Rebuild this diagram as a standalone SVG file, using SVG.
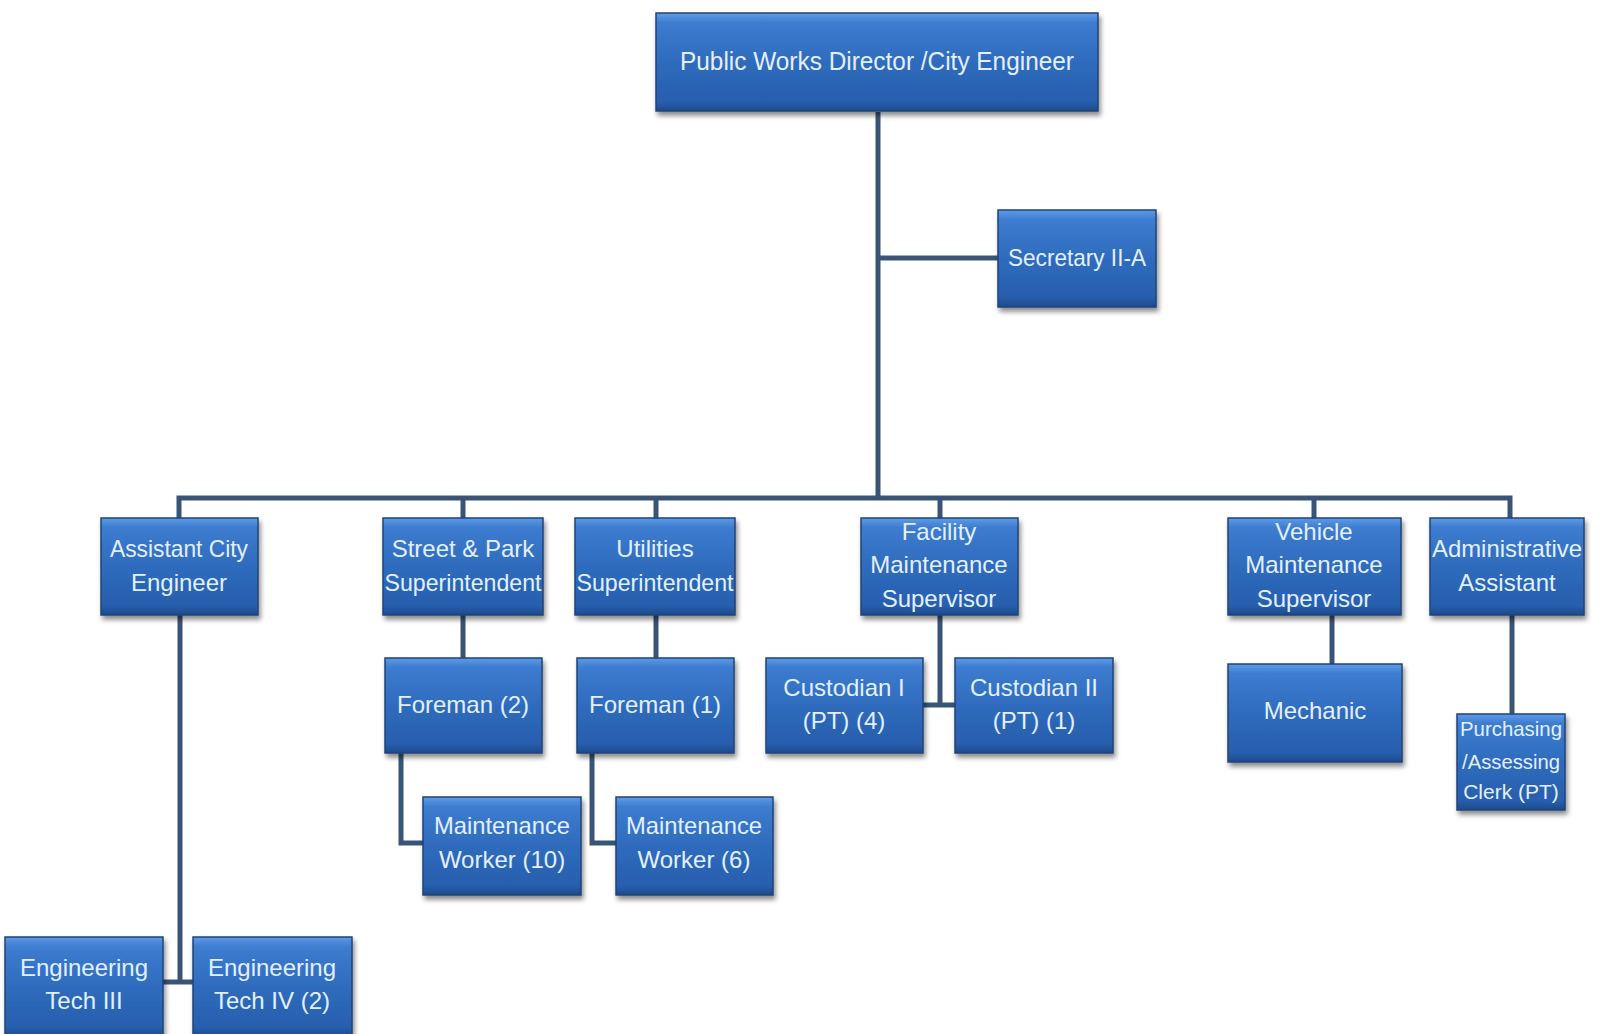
<svg xmlns="http://www.w3.org/2000/svg" width="1600" height="1034" viewBox="0 0 1600 1034">
<defs>
<linearGradient id="g" x1="0" y1="0" x2="0" y2="1">
<stop offset="0" stop-color="#5f9be6"/>
<stop offset="0.1" stop-color="#3d7cd0"/>
<stop offset="0.5" stop-color="#2f6bbd"/>
<stop offset="0.9" stop-color="#285fae"/>
<stop offset="1" stop-color="#1d4a8c"/>
</linearGradient>
<filter id="sh" x="-10%" y="-10%" width="125%" height="130%">
<feGaussianBlur in="SourceAlpha" stdDeviation="2.5"/>
<feOffset dx="2" dy="4" result="b"/>
<feComponentTransfer><feFuncA type="linear" slope="0.45"/></feComponentTransfer>
<feMerge><feMergeNode/><feMergeNode in="SourceGraphic"/></feMerge>
</filter>
</defs>
<style>
.box{fill:url(#g);stroke:#1f4478;stroke-width:1.5;filter:url(#sh)}
.t{font-family:"Liberation Sans",Arial,sans-serif;font-size:24px;fill:#e2f1fd;text-anchor:middle;dominant-baseline:central}
.s{font-size:21px}
.c{fill:none;stroke:#3a5476;stroke-width:5;stroke-linejoin:miter}
</style>
<rect width="1600" height="1034" fill="#ffffff"/>
<g id="connectors">
<path class="c" d="M878 112 V498"/>
<path class="c" d="M878 258 H998"/>
<path class="c" d="M179 518 V498 H1510 V518"/>
<path class="c" d="M463 498 V518"/>
<path class="c" d="M656 498 V518"/>
<path class="c" d="M940 498 V518"/>
<path class="c" d="M1314 498 V518"/>
<path class="c" d="M180 615 V982 M163 982 H193"/>
<path class="c" d="M463 615 V658"/>
<path class="c" d="M656 615 V658"/>
<path class="c" d="M401 753 V843 H423"/>
<path class="c" d="M592 753 V843 H616"/>
<path class="c" d="M940 615 V705 M923 705 H955"/>
<path class="c" d="M1332 615 V664"/>
<path class="c" d="M1512 615 V714"/>
</g>
<g id="n-director"><rect class="box" x="656" y="13" width="442" height="98"/><text class="t" x="877" y="61" style="font-size:26px" textLength="394" lengthAdjust="spacingAndGlyphs">Public Works Director /City Engineer</text></g>
<g id="n-secretary"><rect class="box" x="998" y="210" width="158" height="97"/><text class="t" x="1077" y="257" textLength="138" lengthAdjust="spacingAndGlyphs">Secretary II-A</text></g>
<g id="n-assistant"><rect class="box" x="101" y="518" width="157" height="97"/><text class="t" x="179" y="548" textLength="138" lengthAdjust="spacingAndGlyphs">Assistant City</text><text class="t" x="179" y="582">Engineer</text></g>
<g id="n-street"><rect class="box" x="383" y="518" width="160" height="97"/><text class="t" x="463" y="548">Street &amp; Park</text><text class="t" x="463" y="582" textLength="157" lengthAdjust="spacingAndGlyphs">Superintendent</text></g>
<g id="n-utilities"><rect class="box" x="575" y="518" width="160" height="97"/><text class="t" x="655" y="548">Utilities</text><text class="t" x="655" y="582" textLength="157" lengthAdjust="spacingAndGlyphs">Superintendent</text></g>
<g id="n-facility"><rect class="box" x="861" y="518" width="157" height="97"/><text class="t" x="939" y="531">Facility</text><text class="t" x="939" y="564">Maintenance</text><text class="t" x="939" y="598">Supervisor</text></g>
<g id="n-vehicle"><rect class="box" x="1228" y="518" width="173" height="97"/><text class="t" x="1314" y="531">Vehicle</text><text class="t" x="1314" y="564">Maintenance</text><text class="t" x="1314" y="598">Supervisor</text></g>
<g id="n-admin"><rect class="box" x="1430" y="518" width="154" height="97"/><text class="t" x="1507" y="548" textLength="150" lengthAdjust="spacingAndGlyphs">Administrative</text><text class="t" x="1507" y="582">Assistant</text></g>
<g id="n-foreman2"><rect class="box" x="385" y="658" width="157" height="95"/><text class="t" x="463" y="704">Foreman  (2)</text></g>
<g id="n-foreman1"><rect class="box" x="577" y="658" width="157" height="95"/><text class="t" x="655" y="704">Foreman (1)</text></g>
<g id="n-cust1"><rect class="box" x="766" y="658" width="157" height="95"/><text class="t" x="844" y="687">Custodian I</text><text class="t" x="844" y="720">(PT) (4)</text></g>
<g id="n-cust2"><rect class="box" x="955" y="658" width="158" height="95"/><text class="t" x="1034" y="687">Custodian II</text><text class="t" x="1034" y="720">(PT) (1)</text></g>
<g id="n-mechanic"><rect class="box" x="1228" y="664" width="174" height="98"/><text class="t" x="1315" y="710">Mechanic</text></g>
<g id="n-purchasing"><rect class="box" x="1457" y="714" width="108" height="96"/><text class="t s" x="1511" y="728" textLength="102" lengthAdjust="spacingAndGlyphs">Purchasing</text><text class="t s" x="1511" y="761" textLength="98" lengthAdjust="spacingAndGlyphs">/Assessing</text><text class="t s" x="1511" y="791">Clerk (PT)</text></g>
<g id="n-mw10"><rect class="box" x="423" y="797" width="158" height="98"/><text class="t" x="502" y="825" textLength="136" lengthAdjust="spacingAndGlyphs">Maintenance</text><text class="t" x="502" y="859">Worker (10)</text></g>
<g id="n-mw6"><rect class="box" x="616" y="797" width="157" height="98"/><text class="t" x="694" y="825" textLength="136" lengthAdjust="spacingAndGlyphs">Maintenance</text><text class="t" x="694" y="859">Worker (6)</text></g>
<g id="n-eng3"><rect class="box" x="5" y="937" width="158" height="100"/><text class="t" x="84" y="967">Engineering</text><text class="t" x="84" y="1000">Tech III</text></g>
<g id="n-eng4"><rect class="box" x="193" y="937" width="159" height="100"/><text class="t" x="272" y="967">Engineering</text><text class="t" x="272" y="1000">Tech IV (2)</text></g>
</svg>
